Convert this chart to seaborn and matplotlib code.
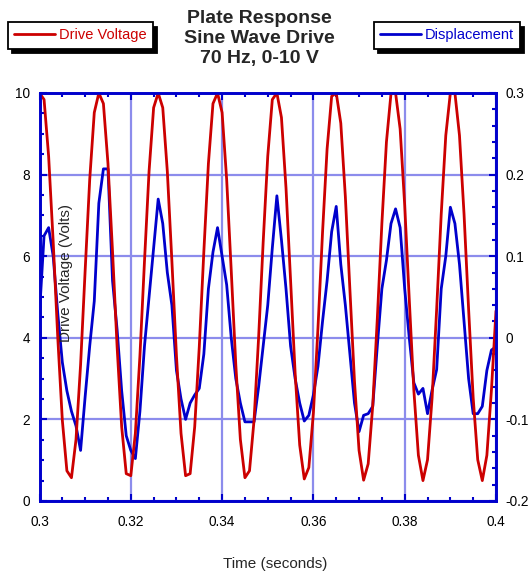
import numpy as np
import pandas as pd
import matplotlib
matplotlib.use("Agg")
import matplotlib.pyplot as plt
import seaborn as sns
from matplotlib.ticker import MultipleLocator

# donnees (echantillon toutes les 1 ms)
time_s = np.round(np.linspace(0.300, 0.400, 101), 3)

drive_voltage = [
    10.0, 9.84, 8.45, 6.35, 4.01, 1.98, 0.74, 0.57, 1.51, 3.34,
    5.65, 7.88, 9.52, 10.0, 9.74, 8.27, 6.11, 3.78, 1.82, 0.67,
    0.62, 1.66, 3.56, 5.88, 8.08, 9.64, 10.0, 9.64, 8.08, 5.88,
    3.56, 1.66, 0.62, 0.67, 1.82, 3.78, 6.11, 8.27, 9.74, 10.0,
    9.52, 7.88, 5.65, 3.34, 1.51, 0.57, 0.74, 1.98, 4.01, 6.35,
    8.45, 9.84, 10.0, 9.40, 7.67, 5.41, 3.13, 1.37, 0.54, 0.82,
    2.16, 4.24, 6.58, 8.63, 9.92, 10.0, 9.26, 7.46, 5.17, 2.93,
    1.24, 0.51, 0.91, 2.34, 4.47, 6.80, 8.80, 9.99, 10.0, 9.12,
    7.25, 4.94, 2.72, 1.12, 0.50, 1.01, 2.53, 4.70, 7.03, 8.96,
    10.0, 10.0, 8.96, 7.03, 4.70, 2.53, 1.01, 0.50, 1.12, 2.72,
    4.66,
]

displacement = [
    0.03, 0.125, 0.135, 0.10, 0.03, -0.03, -0.065, -0.09, -0.108, -0.138,
    -0.072, -0.01, 0.045, 0.165, 0.207, 0.207, 0.07, 0.01, -0.065, -0.12,
    -0.138, -0.148, -0.09, -0.01, 0.05, 0.11, 0.17, 0.14, 0.08, 0.04,
    -0.04, -0.075, -0.10, -0.08, -0.07, -0.062, -0.02, 0.06, 0.105, 0.135,
    0.10, 0.065, 0.0, -0.05, -0.08, -0.103, -0.103, -0.103, -0.06, -0.01,
    0.04, 0.11, 0.174, 0.12, 0.06, -0.01, -0.05, -0.08, -0.102, -0.095,
    -0.07, -0.035, 0.02, 0.07, 0.13, 0.161, 0.09, 0.04, -0.02, -0.08,
    -0.115, -0.095, -0.093, -0.084, -0.01, 0.06, 0.095, 0.14, 0.158, 0.135,
    0.06, 0.0, -0.055, -0.069, -0.062, -0.093, -0.064, -0.039, 0.06, 0.10,
    0.16, 0.14, 0.09, 0.02, -0.05, -0.093, -0.093, -0.084, -0.04, -0.015,
    -0.011,
]

x_ticks = [0.3, 0.32, 0.34, 0.36, 0.38, 0.4]
x_tick_labels = ["0.3", "0.32", "0.34", "0.36", "0.38", "0.4"]
left_ticks = [0, 2, 4, 6, 8, 10]
right_ticks = [-0.2, -0.1, 0, 0.1, 0.2, 0.3]
right_tick_labels = ["-0.2", "-0.1", "0", "0.1", "0.2", "0.3"]

df = pd.DataFrame({"time": time_s, "drive": drive_voltage, "disp": displacement})

RED = "#CC0000"
BLUE = "#0000CC"
GRID = "#8C8CEC"

sns.set_theme(style="white")
plt.rcParams["font.family"] = ["Liberation Sans", "DejaVu Sans"]

fig = plt.figure(figsize=(5.31, 5.73), dpi=100)
ax2 = fig.add_axes([39.5 / 531, 72 / 573, 456.5 / 531, 408 / 573])
ax = ax2.twinx()

# axe de droite (deplacement) en dessous, avec la grille
sns.lineplot(data=df, x="time", y="disp", ax=ax2, color=BLUE, lw=2.0, legend=False)
ax2.set_ylim(-0.2, 0.3)
ax2.set_xlim(0.3, 0.4)
ax2.set_xticks(x_ticks)
ax2.set_xticklabels(x_tick_labels)
ax2.xaxis.set_minor_locator(MultipleLocator(0.005))
ax2.yaxis.tick_right()
ax2.set_yticks(right_ticks)
ax2.set_yticklabels(right_tick_labels)
ax2.yaxis.set_minor_locator(MultipleLocator(0.02))
ax2.grid(True, which="major", color=GRID, lw=1.6)
ax2.set_axisbelow(True)
ax2.set_xlabel("")
ax2.set_ylabel("")

# axe de gauche (tension) au dessus
sns.lineplot(data=df, x="time", y="drive", ax=ax, color=RED, lw=2.0, legend=False)
ax.yaxis.tick_left()
ax.set_ylim(0, 10)
ax.set_yticks(left_ticks)
ax.set_yticklabels([str(v) for v in left_ticks])
ax.yaxis.set_minor_locator(MultipleLocator(0.5))
ax.set_zorder(ax2.get_zorder() + 1)
ax.patch.set_visible(False)

for a in (ax, ax2):
    for sp in a.spines.values():
        sp.set_color(BLUE)
        sp.set_linewidth(1.9)
    a.tick_params(which="both", direction="in", color=BLUE, labelsize=9.8,
                  labelcolor="black", width=1.5)
    a.tick_params(which="major", length=5, pad=7)
    a.tick_params(which="minor", length=3)
ax2.tick_params(axis="x", top=True, bottom=True, which="both")
ax2.tick_params(axis="x", pad=10)
ax.tick_params(axis="y", left=True, right=False, labelleft=True, labelright=False, which="both")
ax2.tick_params(axis="y", left=False, right=True, labelleft=False, labelright=True, which="both")

ax.set_ylabel("Drive Voltage (Volts)", fontsize=11, va="center")
ax.yaxis.set_label_position("left")
ax.yaxis.set_label_coords(0.073, 0.558)
ax2.set_xlabel("Time (seconds)", fontsize=11)
ax2.xaxis.set_label_coords(0.516, -0.137)

fig.text(0.488, 1 - 10 / 573, "Plate Response\nSine Wave Drive\n70 Hz, 0-10 V",
         ha="center", va="top", fontsize=14, fontweight="bold", linespacing=1.25)

shadow = {"color": "black", "alpha": 1, "ox": 3, "oy": -3}
leg_kw = dict(loc="center", frameon=True, fancybox=False, shadow=shadow,
              edgecolor="black", fontsize=10.5, handlelength=2.8,
              handletextpad=0.3, borderpad=0.42, borderaxespad=0,
              labelcolor="linecolor")
l1 = fig.legend(handles=[ax.lines[0]], labels=["Drive Voltage"],
                bbox_to_anchor=(80.5 / 531, 1 - 35.5 / 573), **leg_kw)
l2 = fig.legend(handles=[ax2.lines[0]], labels=["Displacement"],
                bbox_to_anchor=(447 / 531, 1 - 35.5 / 573), **leg_kw)
for lg in (l1, l2):
    lg.get_frame().set_linewidth(1.3)

fig.savefig("out.png", dpi=100)
